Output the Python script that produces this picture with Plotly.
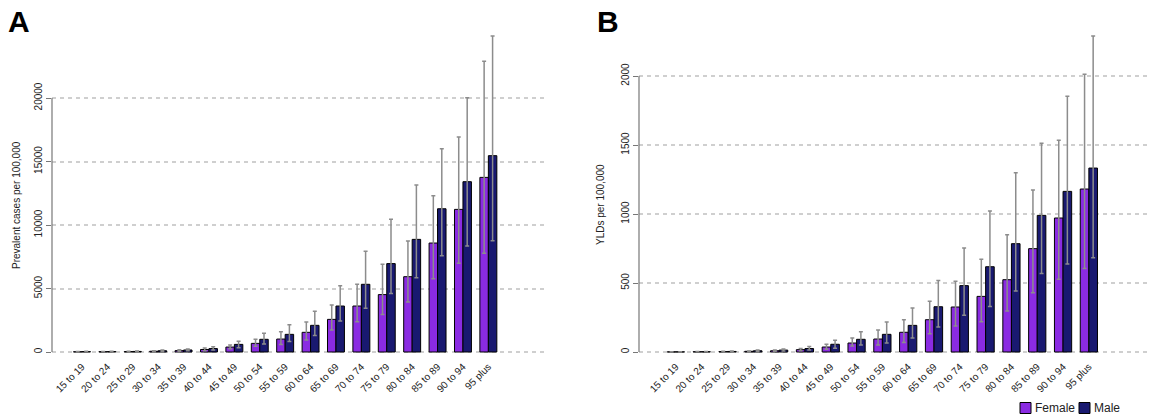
import plotly.graph_objects as go

ages = ["15 to 19", "20 to 24", "25 to 29", "30 to 34", "35 to 39", "40 to 44",
        "45 to 49", "50 to 54", "55 to 59", "60 to 64", "65 to 69", "70 to 74",
        "75 to 79", "80 to 84", "85 to 89", "90 to 94", "95 plus"]

# Panel A: prevalent cases per 100,000
prev_female = [20, 25, 35, 60, 110, 200, 390, 680, 1020, 1550, 2570, 3620, 4520, 5930, 8580, 11230, 13750]
prev_female_lo = [10, 12, 18, 35, 60, 100, 250, 450, 600, 950, 1730, 2390, 2960, 3940, 5770, 6980, 7770]
prev_female_hi = [35, 45, 60, 100, 170, 310, 550, 1000, 1600, 2360, 3700, 5330, 6900, 8740, 12310, 16930, 22890]
prev_male = [30, 35, 45, 100, 160, 270, 600, 1000, 1390, 2100, 3620, 5330, 6960, 8870, 11280, 13410, 15460]
prev_male_lo = [15, 18, 25, 55, 90, 150, 340, 630, 820, 1290, 2440, 3440, 4600, 5850, 7580, 8350, 8760]
prev_male_hi = [55, 60, 80, 160, 240, 410, 840, 1470, 2150, 3200, 5220, 7930, 10450, 13150, 16010, 20020, 24880]

# Panel B: YLDs per 100,000
yld_female = [1, 2, 3, 5, 9, 17, 36, 65, 94, 143, 234, 326, 403, 524, 749, 971, 1181]
yld_female_lo = [0.5, 1, 1.5, 3, 5, 9, 20, 43, 51, 68, 133, 188, 220, 297, 430, 527, 606]
yld_female_hi = [2, 3, 5, 8, 14, 26, 56, 101, 159, 234, 367, 512, 672, 850, 1174, 1534, 2012]
yld_male = [1, 2, 4, 9, 14, 25, 56, 92, 128, 193, 328, 481, 618, 785, 990, 1164, 1333]
yld_male_lo = [0.5, 1, 2, 5, 8, 14, 27, 50, 65, 101, 181, 266, 329, 442, 568, 638, 683]
yld_male_hi = [2, 3, 7, 14, 22, 40, 85, 147, 217, 319, 519, 754, 1022, 1299, 1512, 1853, 2290]

ticks_a = [0, 5000, 10000, 15000, 20000]
ticks_b = [0, 500, 1000, 1500, 2000]
series_names = ["Female", "Male"]

FEMALE = "#8A2BE2"
MALE = "#191970"
ERR = "#8c8c8c"
FONT = "Liberation Sans, Arial, sans-serif"

fig = go.Figure()


def add_bars(vals, lo, hi, name, color, xa, ya):
    fig.add_trace(go.Bar(
        x=ages, y=vals, name=name, legendgroup=name, showlegend=False,
        marker=dict(color=color, line=dict(color="black", width=1)),
        error_y=dict(type="data", symmetric=False,
                     array=[h - v for h, v in zip(hi, vals)],
                     arrayminus=[v - l for v, l in zip(vals, lo)],
                     color=ERR, thickness=1.5, width=2),
        xaxis=xa, yaxis=ya))


add_bars(prev_female, prev_female_lo, prev_female_hi, series_names[0], FEMALE, "x", "y")
add_bars(prev_male, prev_male_lo, prev_male_hi, series_names[1], MALE, "x", "y")
add_bars(yld_female, yld_female_lo, yld_female_hi, series_names[0], FEMALE, "x2", "y2")
add_bars(yld_male, yld_male_lo, yld_male_hi, series_names[1], MALE, "x2", "y2")

W, H = 1149, 419
ydom = [(H - 358) / H, (H - 20) / H]

xcommon = dict(type="category", showline=False, showgrid=False, zeroline=False,
               ticks="", tickangle=-45, tickfont=dict(size=10, color="#222", family=FONT))
ycommon = dict(showline=False, zeroline=False, showgrid=True, gridcolor="#cfcfcf",
               gridwidth=1.5, griddash="4px,4px", ticks="outside", ticklen=5,
               tickcolor="#777", tickwidth=1, tickangle=-90, tickformat="d",
               tickfont=dict(size=10, color="#222", family=FONT))

fig.update_layout(
    width=W, height=H, paper_bgcolor="white", plot_bgcolor="white",
    margin=dict(l=0, r=0, t=0, b=0),
    barmode="group", bargap=1 / 3, bargroupgap=0, showlegend=False,
    font=dict(family=FONT, color="#222"),
    xaxis=dict(domain=[52 / W, 545 / W], range=[-1.18, 18.23], anchor="y", **xcommon),
    xaxis2=dict(domain=[639 / W, 1.0], range=[-1.43, 18.33], anchor="y2", **xcommon),
    yaxis=dict(domain=ydom, range=[-472, 26142], tickvals=ticks_a, anchor="x", **ycommon),
    yaxis2=dict(domain=ydom, range=[-43.5, 2406], tickvals=ticks_b, anchor="x2", **ycommon),
)

# y-axis lines spanning only the tick range (base-R style)
fig.add_shape(type="line", xref="x domain", yref="y", x0=0, x1=0,
              y0=ticks_a[0], y1=ticks_a[-1], line=dict(color="#777", width=1.2))
fig.add_shape(type="line", xref="x2 domain", yref="y2", x0=0, x1=0,
              y0=ticks_b[0], y1=ticks_b[-1], line=dict(color="#777", width=1.2))

# legend (base-R style boxes next to labels)
leg_y = (H - 408) / H
box_h = 11 / H
box_w = 11 / W
legend_items = [(series_names[0], FEMALE, 1020), (series_names[1], MALE, 1079)]
for label, col, px in legend_items:
    fig.add_shape(type="rect", xref="paper", yref="paper",
                  x0=px / W, x1=px / W + box_w, y0=leg_y - box_h / 2, y1=leg_y + box_h / 2,
                  fillcolor=col, line=dict(color="black", width=1))
    fig.add_annotation(text=label, xref="paper", yref="paper", x=(px + 13) / W, y=leg_y,
                       xanchor="left", yanchor="middle", showarrow=False,
                       font=dict(size=12, color="#222", family=FONT))

# panel letters and axis titles
fig.add_annotation(text="<b>A</b>", xref="paper", yref="paper", x=6 / W, y=1 - 3 / H,
                   xanchor="left", yanchor="top", showarrow=False,
                   font=dict(size=30, color="black", family=FONT))
fig.add_annotation(text="<b>B</b>", xref="paper", yref="paper", x=595 / W, y=1 - 3 / H,
                   xanchor="left", yanchor="top", showarrow=False,
                   font=dict(size=30, color="black", family=FONT))
fig.add_annotation(text="Prevalent cases per 100,000", xref="paper", yref="paper",
                   x=16 / W, y=(H - 205) / H, textangle=-90, showarrow=False,
                   xanchor="center", yanchor="middle",
                   font=dict(size=10, color="#222", family=FONT))
fig.add_annotation(text="YLDs per 100,000", xref="paper", yref="paper",
                   x=600 / W, y=(H - 205) / H, textangle=-90, showarrow=False,
                   xanchor="center", yanchor="middle",
                   font=dict(size=10, color="#222", family=FONT))

fig.write_html("out.html", config={"displayModeBar": False},
               post_script="document.body.style.margin='0';document.body.style.overflow='hidden';")
